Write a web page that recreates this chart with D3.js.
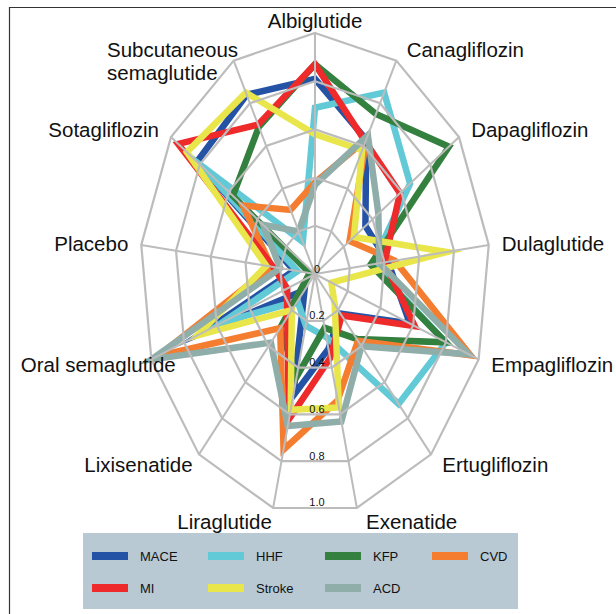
<!DOCTYPE html>
<html>
<head>
<meta charset="utf-8">
<script src="https://cdn.jsdelivr.net/npm/d3@7"></script>
<style>
  body { margin: 0; background: #fff; }
  svg { display: block; }
</style>
</head>
<body>
<div class="chart"></div>
<script>
// axes, clockwise from the top
const categories = ["Albiglutide", "Canagliflozin", "Dapagliflozin", "Dulaglutide", "Empagliflozin",
  "Ertugliflozin", "Exenatide", "Liraglutide", "Lixisenatide", "Oral semaglutide", "Placebo",
  "Sotagliflozin", "Subcutaneous semaglutide"];

const tickValues = [0, 0.2, 0.4, 0.6, 0.8, 1.0];
const tickLabels = ["0", "0.2", "0.4", "0.6", "0.8", "1.0"];

// legend / drawing order (row by row)
const seriesNames = ["MACE", "HHF", "KFP", "CVD", "MI", "Stroke", "ACD"];
const seriesColors = ["#2453a6", "#62c9d6", "#33803f", "#f47d30", "#ee2a2b", "#e9e64b", "#8fada9"];

const maceValues   = [0.81, 0.63, 0.35, 0.42, 0.58, 0.22, 0.32, 0.52, 0.09, 0.69, 0.12, 0.82, 0.84];
const hhfValues    = [0.69, 0.85, 0.66, 0.33, 0.80, 0.72, 0.27, 0.22, 0.15, 0.57, 0.10, 0.80, 0.15];
const kfpValues    = [0.87, 0.75, 0.93, 0.32, 0.80, 0.36, 0.23, 0.44, 0.30, 0.05, 0.03, 0.57, 0.69];
const cvdValues    = [0.38, 0.63, 0.24, 0.46, 0.95, 0.37, 0.54, 0.75, 0.30, 0.96, 0.25, 0.50, 0.30];
const miValues     = [0.87, 0.62, 0.59, 0.40, 0.61, 0.23, 0.36, 0.62, 0.24, 0.17, 0.24, 0.95, 0.70];
const strokeValues = [0.58, 0.58, 0.27, 0.76, 0.10, 0.17, 0.57, 0.58, 0.20, 0.72, 0.28, 0.89, 0.85];
const acdValues    = [0.37, 0.65, 0.44, 0.37, 0.94, 0.40, 0.63, 0.65, 0.38, 1.00, 0.20, 0.36, 0.20];

const seriesValues = [maceValues, hhfValues, kfpValues, cvdValues, miValues, strokeValues, acdValues];

const W = 616, H = 614;
const cx = 315, cy = 274;
const font = "'Liberation Sans', Arial, Helvetica, sans-serif";

const svg = d3.select(".chart")
  .append("svg")
  .attr("width", W)
  .attr("height", H)
  .attr("viewBox", `0 0 ${W} ${H}`);

// frame (only the top and left edges show in the crop)
svg.append("path")
  .attr("d", `M9.5,${H} V7.5 H${W}`)
  .attr("fill", "none")
  .attr("stroke", "#333")
  .attr("stroke-width", 1.2);

// radar is stretched vertically, so two radial scales
const rx = d3.scaleLinear().domain([0, 1]).range([0, 175]);
const ry = d3.scaleLinear().domain([0, 1]).range([0, 241]);
const angle = d3.scaleLinear().domain([0, categories.length]).range([0, 2 * Math.PI]);

const px = (i, v) => cx + rx(v) * Math.sin(angle(i));
const py = (i, v) => cy - ry(v) * Math.cos(angle(i));

const g = svg.append("g");

// data polygons
const radarLine = d3.line()
  .x(d => px(d.i, d.v))
  .y(d => py(d.i, d.v))
  .curve(d3.curveLinearClosed);

const series = seriesNames.map((name, k) => ({
  name: name,
  color: seriesColors[k],
  points: seriesValues[k].map((v, i) => ({ i: i, v: v }))
}));

g.selectAll("path.series")
  .data(series)
  .join("path")
  .attr("class", "series")
  .attr("d", d => radarLine(d.points))
  .attr("fill", "none")
  .attr("stroke", d => d.color)
  .attr("stroke-width", 6.5)
  .attr("stroke-linejoin", "miter")
  .attr("stroke-miterlimit", 20);

// grid goes over the data, as in the reference
const gridColor = "#bcbcbc";

g.selectAll("path.ring")
  .data(tickValues.filter(t => t > 0))
  .join("path")
  .attr("class", "ring")
  .attr("d", t => radarLine(categories.map((c, i) => ({ i: i, v: t }))))
  .attr("fill", "none")
  .attr("stroke", gridColor)
  .attr("stroke-width", 2.2);

g.selectAll("line.spoke")
  .data(categories)
  .join("line")
  .attr("class", "spoke")
  .attr("x1", cx)
  .attr("y1", cy)
  .attr("x2", (c, i) => px(i, 1))
  .attr("y2", (c, i) => py(i, 1))
  .attr("stroke", gridColor)
  .attr("stroke-width", 2);

// tick labels sit just above each ring's bottom edge
const bottomEdge = Math.cos(angle(0.5));
g.selectAll("text.tick")
  .data(tickValues)
  .join("text")
  .attr("class", "tick")
  .attr("x", cx + 2)
  .attr("y", t => cy + ry(t) * bottomEdge - 1.5)
  .attr("text-anchor", "middle")
  .style("font-family", font)
  .style("font-size", "11px")
  .style("fill", "#111")
  .text((t, k) => tickLabels[k]);

// axis labels
const labelNudge = { 7: 8, 8: 5, 9: 37 };
categories.forEach((name, i) => {
  const s = Math.sin(angle(i)), c = Math.cos(angle(i));
  const x0 = px(i, 1), y0 = py(i, 1);
  const anchor = Math.abs(s) < 0.05 ? "middle" : (s > 0 ? "start" : "end");
  let dx = anchor === "middle" ? 0 : Math.sign(s) * (8 + 5 * Math.abs(s));
  dx += labelNudge[i] || 0;
  const dy = 8 - 13.5 * c;
  const t = svg.append("text")
    .style("font-family", font)
    .style("font-size", "20.5px")
    .style("fill", "#111");
  if (name === "Subcutaneous semaglutide") {
    t.attr("x", 107).attr("y", y0 - 4);
    t.append("tspan").attr("x", 107).text("Subcutaneous");
    t.append("tspan").attr("x", 107).attr("dy", 23).text("semaglutide");
  } else {
    t.attr("x", x0 + dx)
      .attr("y", y0 + dy)
      .attr("text-anchor", anchor)
      .text(name);
  }
});

// legend
const legend = svg.append("g").attr("transform", "translate(83,533)");
legend.append("rect")
  .attr("width", 435)
  .attr("height", 76)
  .attr("fill", "#b8c9d4");

const colX = [9, 125, 242, 349];
const rowY = [23, 55];
const item = legend.selectAll("g.item")
  .data(series)
  .join("g")
  .attr("class", "item")
  .attr("transform", (d, k) => `translate(${colX[k % 4]},${rowY[Math.floor(k / 4)]})`);

item.append("rect")
  .attr("x", 0)
  .attr("y", -4)
  .attr("width", 36)
  .attr("height", 8)
  .attr("fill", d => d.color);

item.append("text")
  .attr("x", 48)
  .attr("y", 5)
  .style("font-family", font)
  .style("font-size", "13px")
  .style("fill", "#111")
  .text(d => d.name);
</script>
</body>
</html>
